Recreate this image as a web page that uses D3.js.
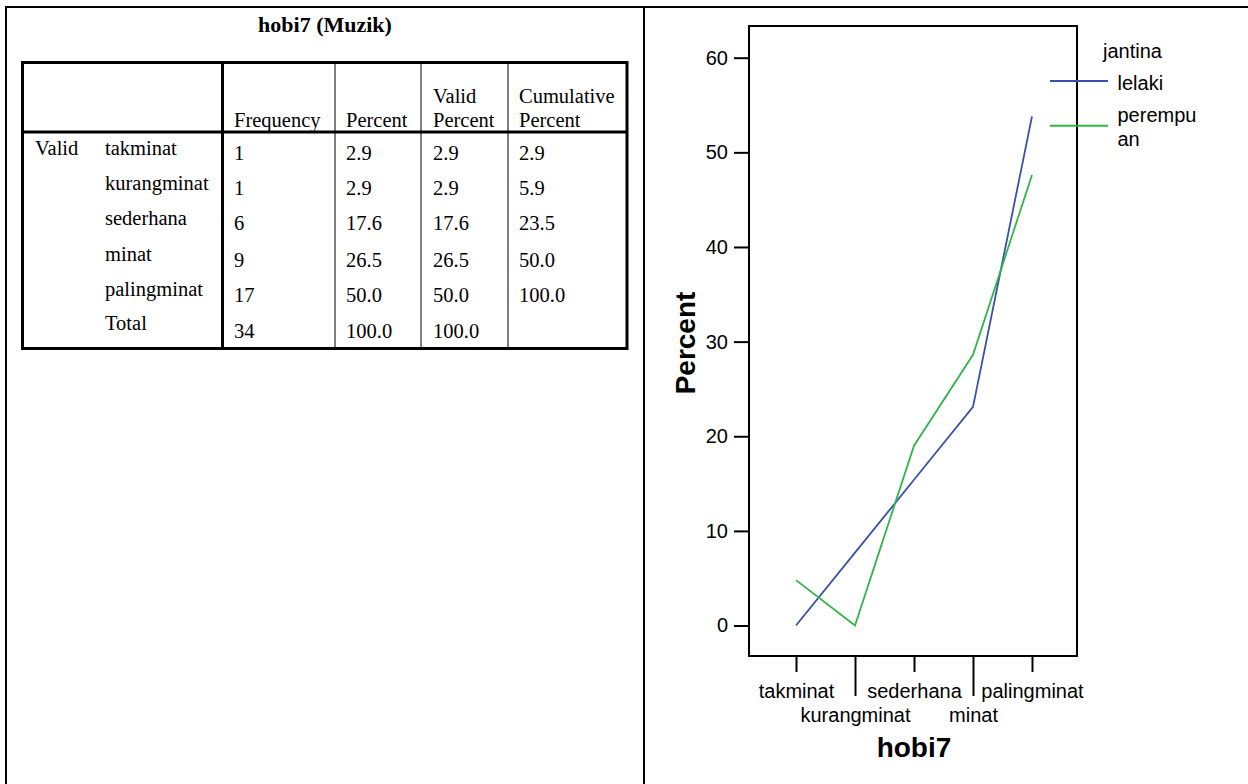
<!DOCTYPE html>
<html>
<head>
<meta charset="utf-8">
<script src="https://cdn.jsdelivr.net/npm/d3@7"></script>
<style>
  html, body { margin: 0; padding: 0; background: #fff; }
  svg { display: block; }
</style>
</head>
<body>
<script>
// ---- data ----
const categories = ["takminat", "kurangminat", "sederhana", "minat", "palingminat"];
const frequency = [1, 1, 6, 9, 17];
const percent = ["2.9", "2.9", "17.6", "26.5", "50.0"];
const validPercent = ["2.9", "2.9", "17.6", "26.5", "50.0"];
const cumulativePercent = ["2.9", "5.9", "23.5", "50.0", "100.0"];
const totalRow = ["34", "100.0", "100.0", ""];
const headers = [["Frequency"], ["Percent"], ["Valid", "Percent"], ["Cumulative", "Percent"]];
const lelaki = [0, 7.7, 15.4, 23.1, 53.8];
const perempuan = [4.8, 0, 19.0, 28.6, 47.6];
const yTicks = [0, 10, 20, 30, 40, 50, 60];
const seriesNames = ["lelaki", "perempuan"];
const legendTitle = "jantina";

const W = 1248, H = 784;
const svg = d3.select("body").append("svg").attr("width", W).attr("height", H);
svg.append("rect").attr("width", W).attr("height", H).attr("fill", "#fff");

// ---- page frame ----
svg.append("line").attr("x1", 5).attr("x2", W).attr("y1", 7).attr("y2", 7).attr("stroke", "#000").attr("stroke-width", 2);
svg.append("line").attr("x1", 6).attr("x2", 6).attr("y1", 6).attr("y2", H).attr("stroke", "#000").attr("stroke-width", 2);
svg.append("line").attr("x1", 644).attr("x2", 644).attr("y1", 6).attr("y2", H).attr("stroke", "#000").attr("stroke-width", 2);

// ---- table ----
const serif = "'Liberation Serif', 'Times New Roman', serif";
const tg = svg.append("g").attr("font-family", serif).attr("font-size", "20.5px").attr("fill", "#000");
tg.append("text").attr("x", 325).attr("y", 32).attr("text-anchor", "middle")
  .attr("font-weight", "bold").attr("font-size", "22px").text("hobi7 (Muzik)");

const tL = 22.5, tR = 627, tT = 62.5, tB = 348.5;
const colX = [222.5, 335, 421, 508];
// thin verticals
[335, 421, 508].forEach(x => {
  tg.append("line").attr("x1", x).attr("x2", x).attr("y1", tT).attr("y2", tB).attr("stroke", "#000").attr("stroke-width", 1);
});
// thick lines
tg.append("line").attr("x1", 222.5).attr("x2", 222.5).attr("y1", tT).attr("y2", tB).attr("stroke", "#000").attr("stroke-width", 3);
tg.append("line").attr("x1", tL).attr("x2", tR).attr("y1", 132).attr("y2", 132).attr("stroke", "#000").attr("stroke-width", 3);
tg.append("rect").attr("x", tL).attr("y", tT).attr("width", tR - tL).attr("height", tB - tT)
  .attr("fill", "none").attr("stroke", "#000").attr("stroke-width", 3);

const textX = [234, 346, 433, 519];
headers.forEach((lines, i) => {
  lines.forEach((s, j) => {
    const y = lines.length === 2 ? (j === 0 ? 103 : 127) : 127;
    tg.append("text").attr("x", textX[i]).attr("y", y).text(s);
  });
});

const labelY = [155, 190, 225, 260.5, 296, 330];
const valueY = [159.5, 194.5, 230, 266.5, 302, 338];
tg.append("text").attr("x", 35).attr("y", labelY[0]).text("Valid");
const rowLabels = categories.concat(["Total"]);
rowLabels.forEach((s, i) => {
  tg.append("text").attr("x", 105).attr("y", labelY[i]).text(s);
});
const rows = categories.map((c, i) => [String(frequency[i]), percent[i], validPercent[i], cumulativePercent[i]]);
rows.push(totalRow);
rows.forEach((r, i) => {
  r.forEach((v, j) => {
    if (v !== "") tg.append("text").attr("x", textX[j]).attr("y", valueY[i]).text(v);
  });
});

// ---- chart ----
const sans = "'Liberation Sans', Arial, sans-serif";
const pL = 749, pR = 1077, pT = 26, pB = 656;
const y = d3.scaleLinear().domain([-3.22, 63.35]).range([pB, pT]);
const x = d3.scalePoint().domain(categories).range([796, 1032]);
const cg = svg.append("g").attr("font-family", sans);

// y axis
const yAxis = cg.append("g").attr("transform", `translate(${pL},0)`)
  .call(d3.axisLeft(y).tickValues(yTicks).tickSize(15).tickPadding(6).tickFormat(d3.format("d")));
yAxis.select(".domain").remove();
yAxis.selectAll(".tick line").attr("stroke", "#000").attr("stroke-width", 2);
yAxis.selectAll(".tick text").attr("font-size", "20px").attr("font-family", sans).attr("fill", "#000");

// x axis
const xAxis = cg.append("g").attr("transform", `translate(0,${pB})`)
  .call(d3.axisBottom(x).tickSize(16).tickPadding(6));
xAxis.select(".domain").remove();
xAxis.selectAll(".tick line").attr("stroke", "#000").attr("stroke-width", 2)
  .attr("y2", (d, i) => i % 2 === 1 ? 40 : 16);
xAxis.selectAll(".tick text").attr("font-size", "20px").attr("font-family", sans).attr("fill", "#000")
  .attr("dy", null).attr("y", (d, i) => i % 2 === 1 ? 65.7 : 42);

// frame
cg.append("rect").attr("x", pL).attr("y", pT).attr("width", pR - pL).attr("height", pB - pT)
  .attr("fill", "none").attr("stroke", "#000").attr("stroke-width", 2);

// lines
const colors = ["#3b50a8", "#2fb548"];
const line = d3.line().x((d, i) => x(categories[i])).y(d => y(d));
[lelaki, perempuan].forEach((s, k) => {
  cg.append("path").datum(s).attr("d", line).attr("fill", "none")
    .attr("stroke", colors[k]).attr("stroke-width", 1.8);
});

// axis titles
cg.append("text").attr("transform", "translate(695,343) rotate(-90)").attr("text-anchor", "middle")
  .attr("font-weight", "bold").attr("font-size", "28px").text("Percent");
cg.append("text").attr("x", 914).attr("y", 756.5).attr("text-anchor", "middle")
  .attr("font-weight", "bold").attr("font-size", "28px").text("hobi7");

// legend
const lg = cg.append("g").attr("font-size", "20px").attr("fill", "#000");
lg.append("text").attr("x", 1103).attr("y", 58).text(legendTitle);
const legY = [81, 125.7];
const legLabelLines = [["lelaki"], ["perempu", "an"]];
const legLabelY = [[90], [121.7, 146]];
seriesNames.forEach((n, k) => {
  lg.append("line").attr("x1", 1050).attr("x2", 1108).attr("y1", legY[k]).attr("y2", legY[k])
    .attr("stroke", colors[k]).attr("stroke-width", 2);
  legLabelLines[k].forEach((s, j) => {
    lg.append("text").attr("x", 1117.5).attr("y", legLabelY[k][j]).text(s);
  });
});
</script>
</body>
</html>
